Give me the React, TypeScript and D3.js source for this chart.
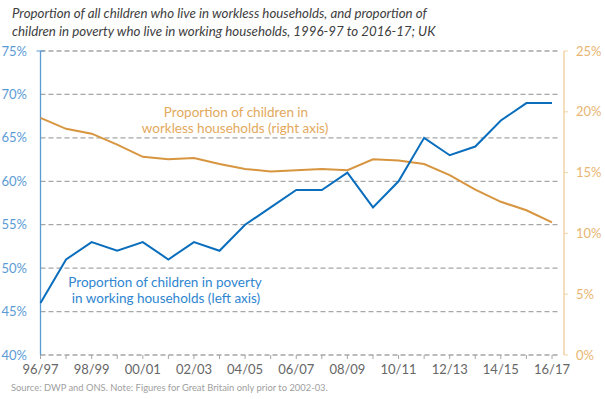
import React from 'react'
import * as d3 from 'd3'

const years = ['96/97','97/98','98/99','99/00','00/01','01/02','02/03','03/04','04/05','05/06','06/07','07/08','08/09','09/10','10/11','11/12','12/13','13/14','14/15','15/16','16/17']
// left axis: children in poverty living in working households (%)
const workingPoverty = [46,51,53,52,53,51,53,52,55,57,59,59,61,57,60,65,63,64,67,69,69]
// right axis: children living in workless households (%)
const workless = [19.5,18.6,18.2,17.3,16.3,16.1,16.2,15.7,15.3,15.1,15.2,15.3,15.2,16.1,16.0,15.7,14.8,13.6,12.6,11.9,10.9]
const leftTicks = [40,45,50,55,60,65,70,75]
const rightTicks = [0,5,10,15,20,25]

const W = 605, H = 399
const FONT = 'Lato, "Open Sans", sans-serif'

export default function App() {
  const x = d3.scalePoint<string>().domain(years).range([40.5, 552])
  const yL = d3.scaleLinear().domain([40, 75]).range([355, 51])
  const yR = d3.scaleLinear().domain([0, 25]).range([355, 51])
  const axisRight = 564

  const lineL = d3.line<number>().x((d, i) => x(years[i])!).y(d => yL(d))
  const lineR = d3.line<number>().x((d, i) => x(years[i])!).y(d => yR(d))

  return (
    <svg width={W} height={H} style={{ position: 'absolute', left: 0, top: 0, background: '#fff' }}>
      <g fontFamily={FONT} fontStyle="italic" fontSize={13.3} fill="#404040">
        <text x={12} y={18}>Proportion of all children who live in workless households, and proportion of</text>
        <text x={12} y={36}>children in poverty who live in working households, 1996-97 to 2016-17; UK</text>
      </g>

      {leftTicks.map(t => (
        <line key={t} x1={40.5} x2={axisRight - 4} y1={yL(t)} y2={yL(t)} stroke="#a6a6a6" strokeWidth={1.3} strokeDasharray="5,3" />
      ))}

      {years.map(yr => (
        <line key={yr} x1={x(yr)} x2={x(yr)} y1={355} y2={359} stroke="#a6a6a6" />
      ))}
      {years.filter((_, i) => i % 2 === 0).map(yr => (
        <text key={yr} x={x(yr)} y={374} textAnchor="middle" fontFamily={FONT} fontSize={13} fill="#666">{yr}</text>
      ))}

      <line x1={40.5} x2={40.5} y1={51} y2={355} stroke="#5b9bd5" strokeWidth={1.3} />
      <line x1={36.5} x2={44.5} y1={51} y2={51} stroke="#5b9bd5" strokeWidth={1} />
      {leftTicks.map(t => (
        <text key={t} x={27} y={yL(t) + 4.5} textAnchor="end" fontFamily={FONT} fontSize={13} fill="#5b9bd5">{t}%</text>
      ))}

      <line x1={axisRight} x2={axisRight} y1={51} y2={355} stroke="#f2d3a6" strokeWidth={1.5} />
      {rightTicks.map(t => (
        <g key={t}>
          <line x1={axisRight} x2={axisRight + 4} y1={yR(t)} y2={yR(t)} stroke="#f2d3a6" />
          <text x={576} y={yR(t) + 4.5} fontFamily={FONT} fontSize={13} fill="#e8b672">{t}%</text>
        </g>
      ))}

      <path d={lineR(workless)!} fill="none" stroke="#d8953f" strokeWidth={2} />
      <path d={lineL(workingPoverty)!} fill="none" stroke="#0a6ebd" strokeWidth={2} />

      <g fontFamily={FONT} fontSize={13.5} textAnchor="middle" fill="#e3a95d">
        <text x={236} y={117}>Proportion of children in</text>
        <text x={235} y={133}>workless households (right axis)</text>
      </g>
      <g fontFamily={FONT} fontSize={13.5} textAnchor="middle" fill="#2f86d0">
        <text x={165} y={287}>Proportion of children in poverty</text>
        <text x={166} y={303}>in working households (left axis)</text>
      </g>

      <text x={11} y={391} fontFamily={FONT} fontSize={9.4} fill="#a0a0a0">Source: DWP and ONS. Note: Figures for Great Britain only prior to 2002-03.</text>
    </svg>
  )
}
